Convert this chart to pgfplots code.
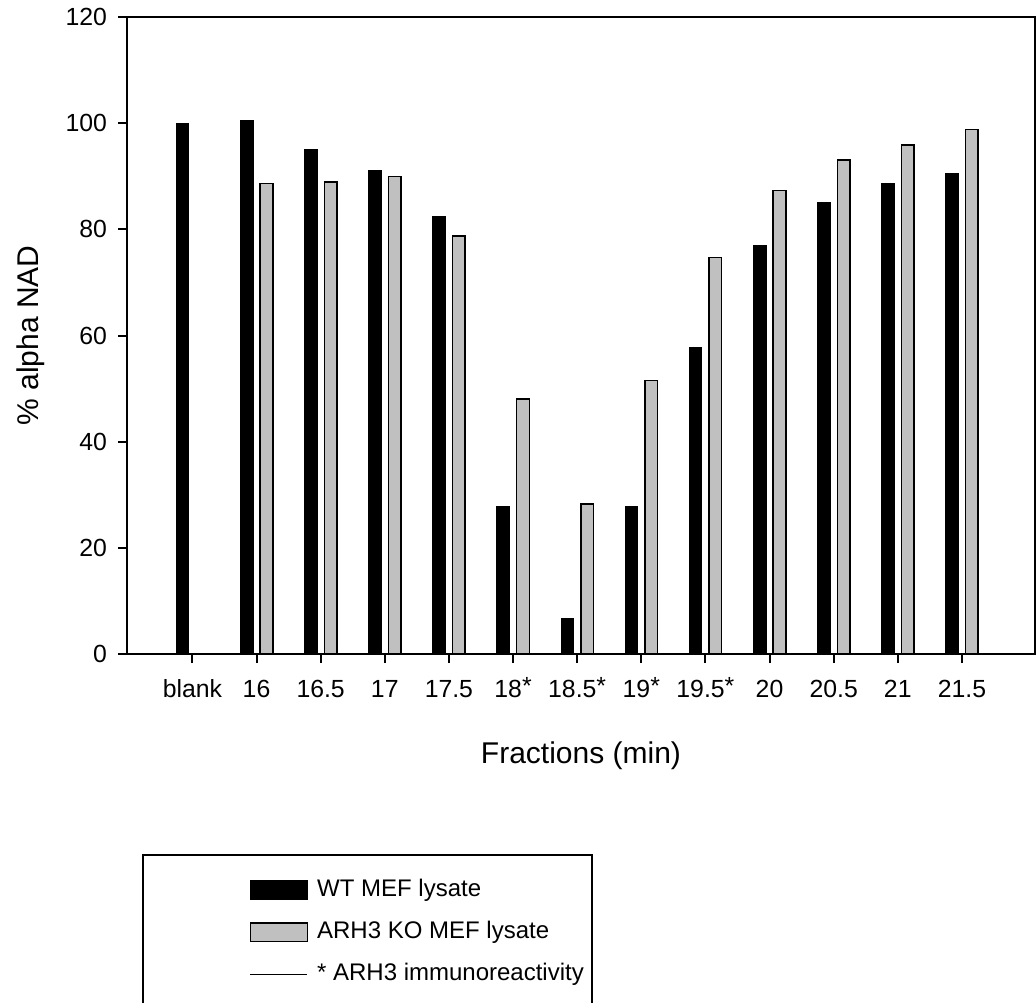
\documentclass[border=0pt]{standalone}
\usepackage{fontspec}
\setmainfont{Liberation Sans}
\usepackage{pgfplots}
\pgfplotsset{compat=1.18}
\definecolor{koGray}{RGB}{192,192,192}
\newcommand{\immst}{\raisebox{1.2pt}{*}}

\begin{document}
\begin{tikzpicture}
\begin{axis}[
  scale only axis, width=454pt, height=318.5pt,
  at={(0,0)}, anchor=south west,
  xmin=-1.02, xmax=13.14, ymin=0, ymax=120,
  axis line style={line width=1pt},
  ybar, bar width=6.3pt,
  xtick={0,...,12},
  xticklabels={blank,16,16.5,17,17.5,18\immst,18.5\immst,19\immst,19.5\immst,20,20.5,21,21.5},
  ytick={0,20,...,120},
  xtick pos=bottom, ytick pos=left,
  tick align=outside, major tick length=4.5pt,
  tick style={line width=1pt, black},
  /pgf/number format/assume math mode=true,
  tick label style={font=\fontsize{12.4}{14}\selectfont},
  xticklabel style={anchor=base, yshift=-17pt},
  yticklabel style={xshift=-2pt},
  xlabel={Fractions (min)}, ylabel={\% alpha NAD},
  label style={font=\fontsize{15}{18}\selectfont},
  xlabel style={at={(axis description cs:0.5,-0.16)}, anchor=center},
  ylabel style={at={(axis description cs:-0.1057,0.5)}, anchor=center},
  legend style={draw=none, fill=none, at={(axis description cs:0.128,-0.345)}, anchor=north west,
    font=\fontsize{12}{14}\selectfont, row sep=9pt,
    nodes={inner sep=0pt, text height=9pt, text depth=3pt}},
  legend cell align=left,
  legend columns=1,
]
% WT MEF lysate
\addplot[fill=black, draw=black, line width=0.5pt, bar shift=-4.9pt,
  legend image code/.code={\draw[fill=black, draw=black, line width=0.75pt] (0pt,-4.7pt) rectangle (28.5pt,4.7pt); \path (33pt,0pt);}]
  coordinates {(0,100) (1,100.5) (2,95.1) (3,91.0) (4,82.5) (5,27.8) (6,6.6) (7,27.7) (8,57.7) (9,76.9) (10,85.1) (11,88.6) (12,90.6)};
\addlegendentry{WT MEF lysate}
% ARH3 KO MEF lysate
\addplot[fill=koGray, draw=black, line width=0.75pt, bar shift=5pt,
  legend image code/.code={\draw[fill=koGray, draw=black, line width=0.75pt] (0pt,-4.7pt) rectangle (28.5pt,4.7pt); \path (33pt,0pt);}]
  coordinates {(1,88.6) (2,88.9) (3,90.0) (4,78.7) (5,48.0) (6,28.3) (7,51.5) (8,74.7) (9,87.3) (10,93.1) (11,95.9) (12,98.8)};
\addlegendentry{ARH3 KO MEF lysate}
\addlegendimage{legend image code/.code={\draw[black, line width=0.6pt] (0pt,0pt) -- (28.5pt,0pt); \path (33pt,0pt);}}
\addlegendentry{* ARH3 immunoreactivity}
\end{axis}
% legend frame
\draw[line width=0.8pt] (7.85pt,-100.5pt) rectangle (232.5pt,-190pt);
\pgfresetboundingbox
\useasboundingbox (-63.5pt,-174pt) rectangle (454.5pt,327pt);
\end{tikzpicture}
\end{document}
